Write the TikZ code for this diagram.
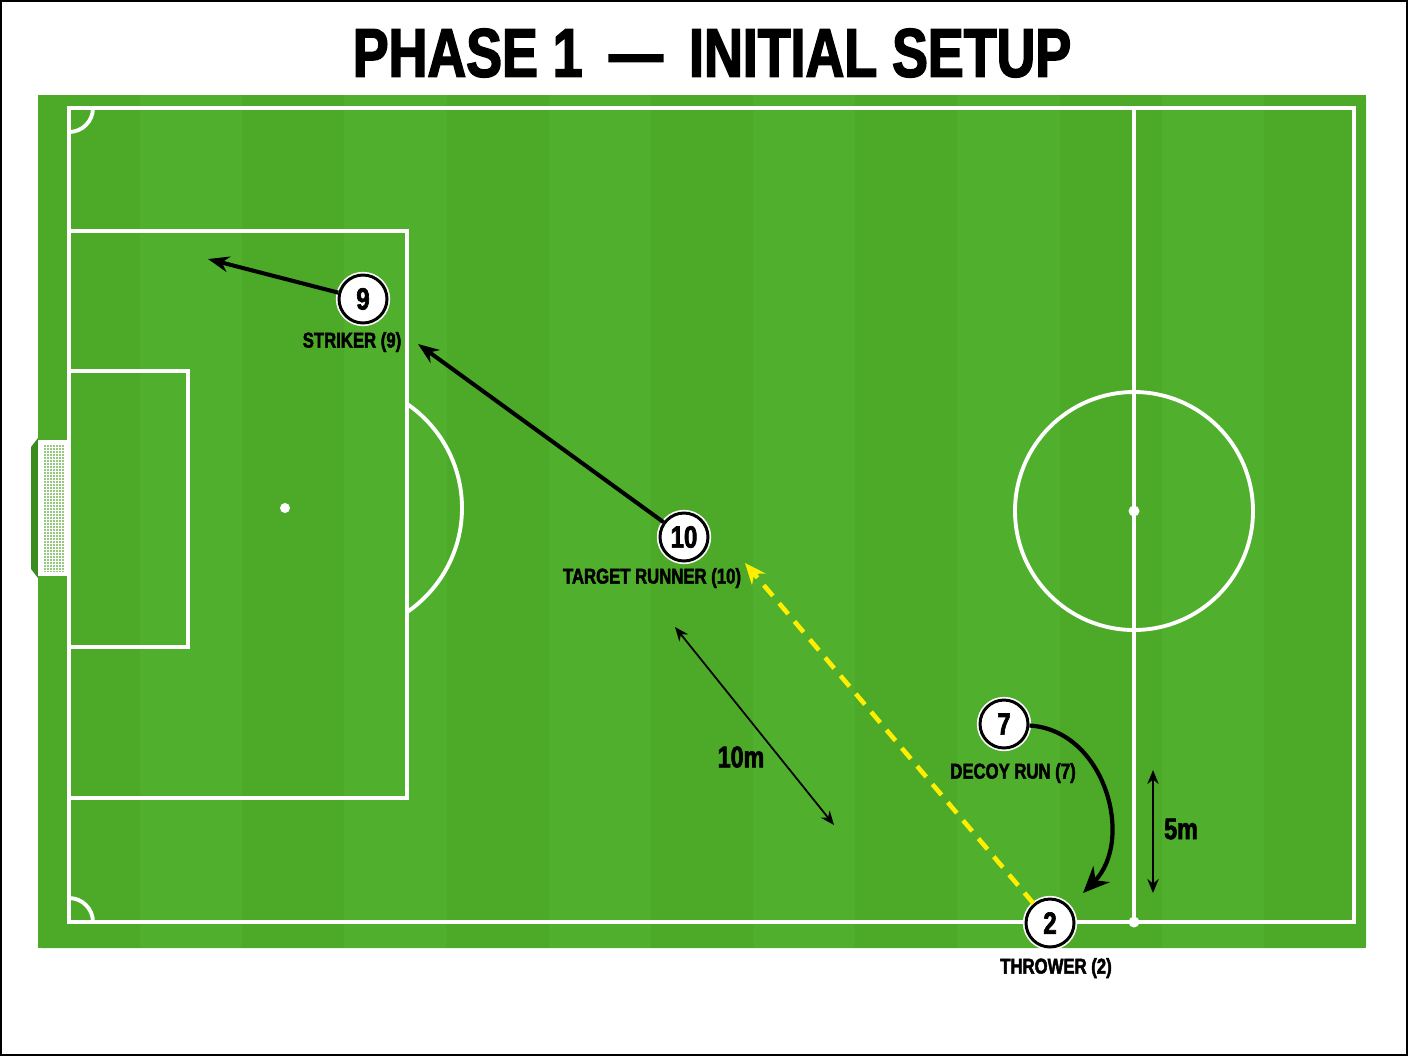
\documentclass[tikz,border=0pt]{standalone}
\usepackage{fontspec}
\usetikzlibrary{arrows.meta}
\newfontfamily\headfont[FakeStretch=0.78,FakeBold=2.2]{Liberation Sans Bold}

\definecolor{pitchlight}{RGB}{80,175,44}
\definecolor{pitchdark}{RGB}{76,170,40}
\definecolor{goalshade}{RGB}{58,140,30}
\definecolor{netgreen}{RGB}{150,200,128}
\definecolor{passyellow}{RGB}{255,238,0}

\begin{document}
\begin{tikzpicture}[x=0.02cm,y=-0.02cm]
    \tikzset{
        pitchline/.style = {white, line width=2.2pt},
        player/.style    = {circle, fill=white, draw=black, line width=1.7pt,
                            minimum size=0.96cm, inner sep=0pt,
                            font=\headfont\fontsize{17.5}{17.5}\selectfont,
                            preaction={draw=white, line width=3.6pt}},
        tag/.style       = {font=\headfont\fontsize{12.2}{13}\selectfont},
        run/.style       = {black, line width=2.3pt, -{Stealth[length=12pt, width=9pt]}},
        curverun/.style  = {black, line width=2.4pt, -{Stealth[length=15pt, width=13pt]}},
        pass/.style      = {passyellow, line width=2.6pt, dash pattern=on 8pt off 5.5pt,
                            -{Stealth[length=12pt, width=10pt]}},
        measure/.style   = {black, line width=1pt,
                            {Stealth[length=8pt, width=6.5pt]}-{Stealth[length=8pt, width=6.5pt]}},
        dimtag/.style    = {font=\headfont\fontsize{17}{17}\selectfont}
    }

    \useasboundingbox (0,0) rectangle (1408,1056);
    \fill[white] (0,0) rectangle (1408,1056);
    \draw[black, line width=1.2pt] (1,1) rectangle (1407,1055);

    \node (title) at (712,53) {\headfont\fontsize{39.2}{40}\selectfont PHASE 1 \,—\, INITIAL SETUP};

    % pitch and stripes
    \fill[pitchlight, rounded corners=2pt] (38,95) rectangle (1366,948);
    \foreach \i in {0,2,...,12}
        \fill[pitchdark] ({38+\i*102.15},95) rectangle ({38+(\i+1)*102.15},948);

    % goal
    \fill[goalshade] (38,438) -- (31,447) -- (31,569) -- (38,578) -- cycle;
    \fill[white] (38,440) rectangle (68,576);
    \fill[netgreen] (43,444) rectangle (65,572);
    \begin{scope}
        \clip (43,444) rectangle (65,572);
        \foreach \y in {444,447,...,572}
            \draw[white, line width=0.35pt] (43,\y) -- (65,\y);
        \foreach \x in {43,46,...,65}
            \draw[white, line width=0.35pt] (\x,444) -- (\x,572);
    \end{scope}

    % markings
    \draw[pitchline] (69,108) rectangle (1354,922);
    \draw[pitchline] (1134,108) -- (1134,922);
    \draw[pitchline] (1134,511) circle[radius=119];
    \fill[white] (1134,511) circle[radius=5.5];
    \fill[white] (1134,922) circle[radius=5.5];
    \draw[pitchline] (69,231) rectangle (407,798);
    \draw[pitchline] (69,371) rectangle (188,647);
    \fill[white] (285,508) circle[radius=5];
    \begin{scope}
        \clip (408,300) rectangle (520,720);
        \draw[pitchline] (336,508) circle[radius=126];
    \end{scope}
    \begin{scope}
        \clip (69,108) rectangle (110,150);
        \draw[pitchline] (69,108) circle[radius=24];
    \end{scope}
    \begin{scope}
        \clip (69,880) rectangle (110,922);
        \draw[pitchline] (69,922) circle[radius=24];
    \end{scope}

    % players
    \node[player] (p9)  at (363,299)  {9};
    \node[player] (p10) at (684,537)  {10};
    \node[player] (p7)  at (1004,724) {7};
    \node[player] (p2)  at (1050,923) {2};

    \node[tag] (t9)  at (352,342)  {STRIKER (9)};
    \node[tag] (t10) at (652,578)  {TARGET RUNNER (10)};
    \node[tag] (t7)  at (1013,773) {DECOY RUN (7)};
    \node[tag] (t2)  at (1056,968) {THROWER (2)};

    % runs and pass
    \coordinate (end9)  at (208,259);
    \coordinate (end10) at (418,344);
    \coordinate (end2)  at (745,563);
    \coordinate (end7)  at (1083,893);

    \draw[run] (p9) -- (end9);
    \draw[run] (p10) -- (end10);
    \draw[pass] (p2) -- (end2);
    \draw[curverun] (p7) .. controls (1105,730) and (1135,840) .. (end7);

    % distances
    \coordinate (m10a) at (675,627);
    \coordinate (m10b) at (834,825);
    \coordinate (m5a)  at (1153,770);
    \coordinate (m5b)  at (1153,893);

    \draw[measure] (m10a) -- (m10b);
    \draw[measure] (m5a) -- (m5b);
    \node[dimtag] (d10) at (741,757) {10m};
    \node[dimtag] (d5)  at (1181,829) {5m};
\end{tikzpicture}
\end{document}
